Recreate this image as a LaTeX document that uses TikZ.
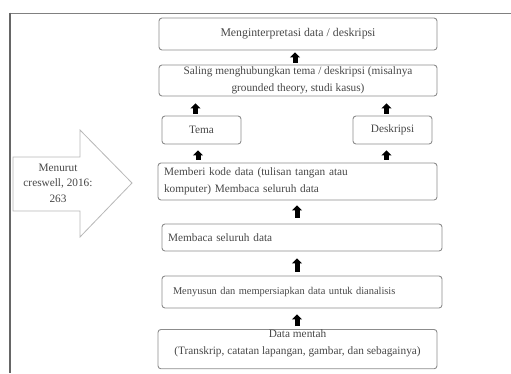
\documentclass[tikz,border=0pt]{standalone}
\usepackage{fontspec}
\setmainfont{Liberation Serif}
\usetikzlibrary{arrows.meta}

\colorlet{box edge}{black!45}
\colorlet{box text}{black!72}
\colorlet{frame edge}{black!60}
\colorlet{arrow edge}{black!28}
\tikzset{
  stepbox/.style={draw=box edge, line width=0.9pt, rounded corners=3pt,
  %fill=white,
  text=box text, font=\fontsize{11.3}{17.5}\selectfont},
  up arrow/.style={-{Triangle[width=10pt,length=5pt]}, line width=5pt, black}
  }
\tikzstyle{frame} = [draw=frame edge, line width=1.8pt]
\tikzstyle{big arrow} = [draw=arrow edge, line width=0.8pt, fill=white]

\begin{document}
\begin{tikzpicture}[x=1pt,y=-1pt]
    \useasboundingbox (0,0) rectangle (511,373);

    % Frame round the page
    \draw[frame, black!50] (9,13.5) -- (511,13.5);
    \draw[frame] (10,12.6) -- (10,373);

    % The steps, from top to bottom
    \node[stepbox, minimum width=278pt, minimum height=32pt, font=\fontsize{11.8}{17.5}\selectfont] (tafsir) at (298,34)
      {Menginterpretasi data / deskripsi};
    \node[stepbox, minimum width=278pt, minimum height=31pt, align=center, inner sep=1pt] (hubung) at (298,80.5)
      {Saling menghubungkan tema / deskripsi (misalnya\\grounded theory, studi kasus)};
    \node[stepbox, minimum width=79pt, minimum height=28pt] (tema) at (201.5,130) {Tema};
    \node[stepbox, minimum width=79pt, minimum height=28pt] (deskripsi) at (392.5,130) {Deskripsi};
    \node[stepbox, minimum height=37pt, inner xsep=6pt, inner ysep=1pt, text width=267pt, align=left] (kode) at (297.5,181.5)
      {Memberi kode data (tulisan tangan atau\\komputer) Membaca seluruh data};
    \node[stepbox, minimum height=27pt, inner xsep=6pt, text width=268pt, align=left] (baca) at (302,237.5)
      {Membaca seluruh data};
    \node[stepbox, minimum height=32pt, inner xsep=11pt, text width=258pt, align=left, font=\fontsize{10.4}{17}\selectfont] (susun) at (302,292)
      {Menyusun dan mempersiapkan data untuk dianalisis};
    \node[stepbox, anchor=north, minimum width=279pt, inner sep=0pt, text depth=14pt, align=center] (mentah) at (297.5,329)
      {Data mentah\\(Transkrip, catatan lapangan, gambar, dan sebagainya)};

    % Up arrows between the steps
    \foreach \from/\to/\x/\s/\e in {hubung/tafsir/295/2/2, tema/hubung/195.5/2/7, deskripsi/hubung/386.5/2/7,
      kode/tema/198/3/6, kode/deskripsi/386.5/3/6, baca/kode/297/6/5, susun/baca/297/4/7, mentah/susun/297/3/6} {
      \draw[up arrow, shorten <=\s pt, shorten >=\e pt] (\x,0 |- \from.north) -- (\x,0 |- \to.south);
    }

    % Big arrow on the left
    \draw[big arrow] (13,157) -- (80,157) -- (80,130) -- (132,183) -- (80,237) -- (80,211) -- (13,211) -- cycle;
    \node[text=box text, align=center, font=\fontsize{11.3}{15.5}\selectfont] (sumber) at (58,183)
      {Menurut\\creswell, 2016:\\263};
\end{tikzpicture}
\end{document}
